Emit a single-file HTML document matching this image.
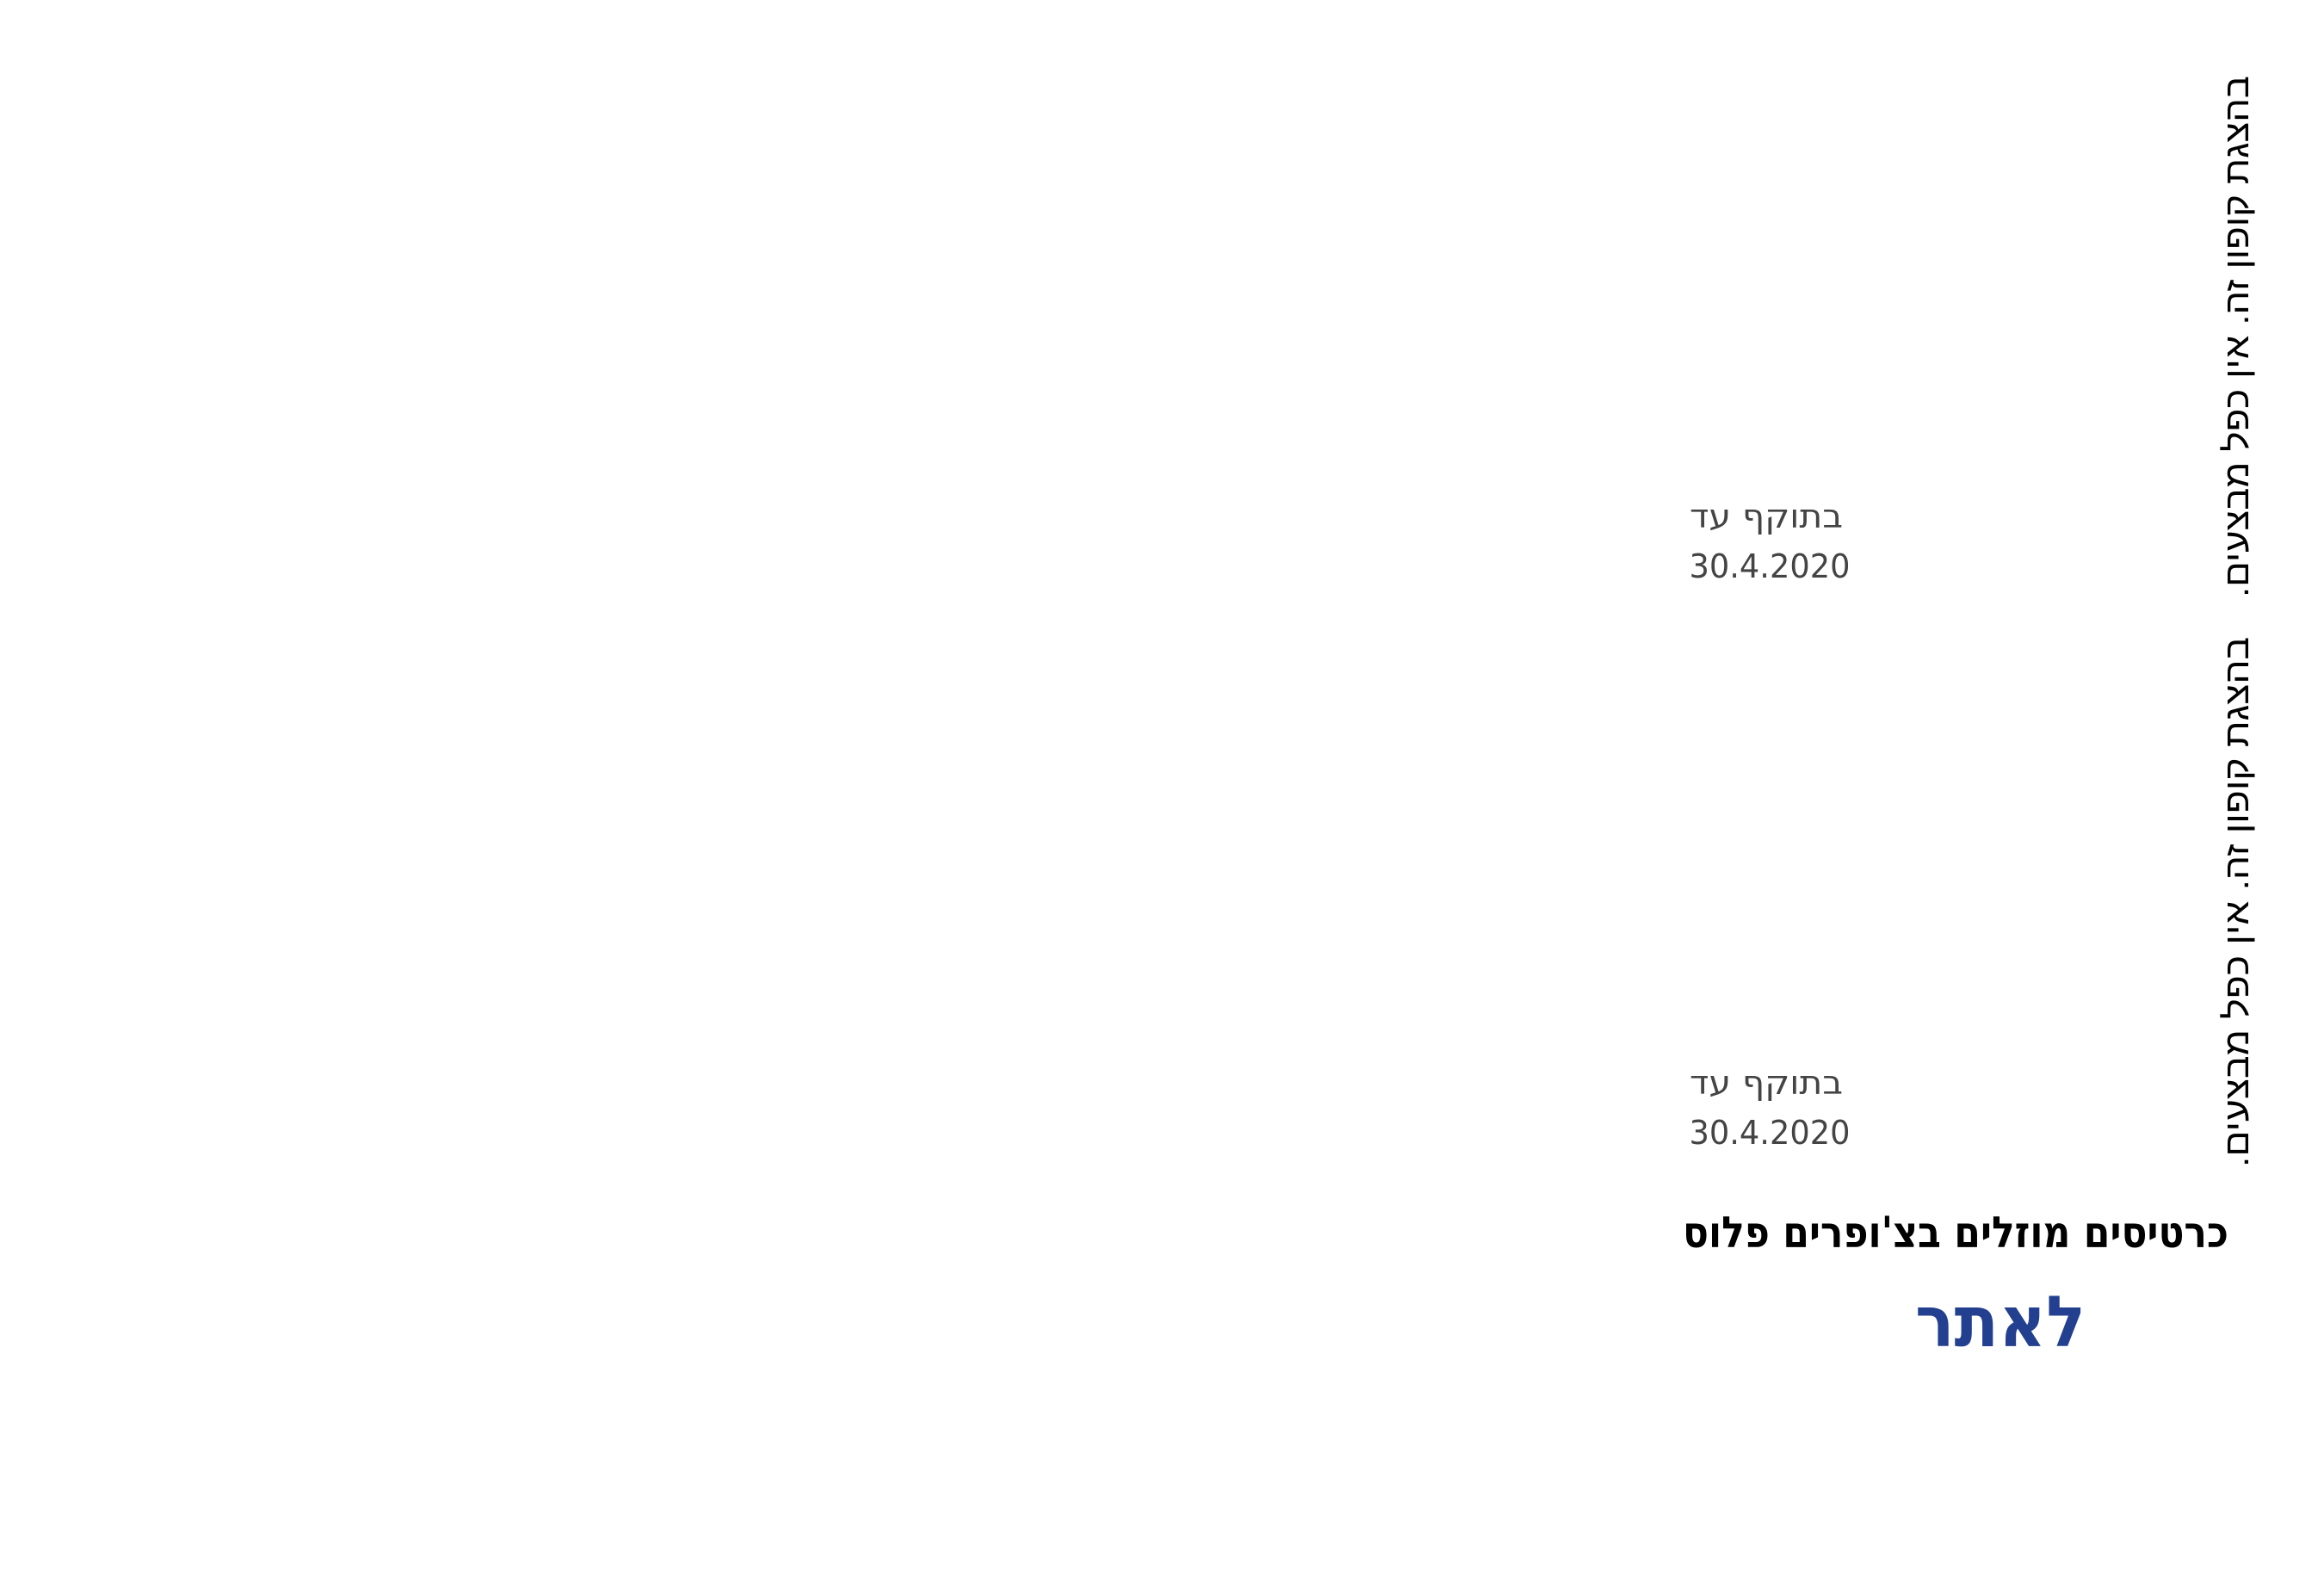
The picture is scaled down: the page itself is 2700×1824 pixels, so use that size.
<!DOCTYPE html>
<html><head><meta charset="utf-8"><style>
html,body{margin:0;padding:0;background:#fff;}
svg{display:block;}
</style></head><body>
<svg width="2700" height="1824" viewBox="0 0 2700 1824" xmlns="http://www.w3.org/2000/svg">
<rect width="2700" height="1824" fill="#fff"/>
<g font-family="'DejaVu Sans','Liberation Sans',sans-serif" fill="#000">
<text transform="translate(2612,391) rotate(-90)" x="0" y="0" text-anchor="middle" direction="rtl" font-size="40" textLength="606" lengthAdjust="spacingAndGlyphs" font-family="'Liberation Sans','DejaVu Sans',sans-serif">בהצגת קופון זה. אין כפל מבצעים.</text>
<text transform="translate(2612,1048) rotate(-90)" x="0" y="0" text-anchor="middle" direction="rtl" font-size="40" textLength="616" lengthAdjust="spacingAndGlyphs" font-family="'Liberation Sans','DejaVu Sans',sans-serif">בהצגת קופון זה. אין כפל מבצעים.</text>
</g>
<g font-family="'DejaVu Sans',sans-serif" fill="#444" font-size="38">
<text x="2052" y="613" text-anchor="middle" direction="rtl" textLength="178" lengthAdjust="spacingAndGlyphs">בתוקף עד</text>
<text x="2056" y="671" text-anchor="middle" textLength="187" lengthAdjust="spacingAndGlyphs">30.4.2020</text>
<text x="2052" y="1271" text-anchor="middle" direction="rtl" textLength="178" lengthAdjust="spacingAndGlyphs">בתוקף עד</text>
<text x="2056" y="1329" text-anchor="middle" textLength="187" lengthAdjust="spacingAndGlyphs">30.4.2020</text>
</g>
<text x="2272" y="1449" text-anchor="middle" direction="rtl" font-family="'DejaVu Sans',sans-serif" font-weight="bold" font-size="50" fill="#000" textLength="634" lengthAdjust="spacingAndGlyphs">כרטיסים מוזלים בצ'ופרים פלוס</text>
<text x="2324" y="1564" text-anchor="middle" direction="rtl" font-family="'DejaVu Sans',sans-serif" font-weight="bold" font-size="82" fill="#233f8f" textLength="198" lengthAdjust="spacingAndGlyphs">לאתר</text>
</svg>
</body></html>
